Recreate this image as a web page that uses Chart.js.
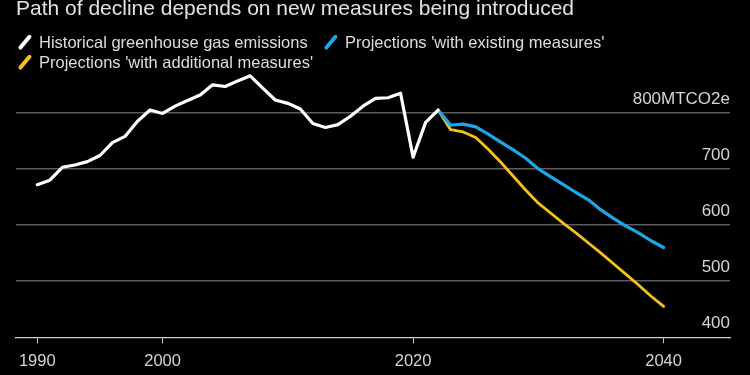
<!DOCTYPE html>
<html>
<head>
<meta charset="utf-8">
<script src="https://cdn.jsdelivr.net/npm/chart.js@4"></script>
<style>
  html, body { margin: 0; padding: 0; background: #000; }
  #wrap { position: relative; width: 750px; height: 375px; background: #000; overflow: hidden; }
  #wrap canvas { position: absolute; left: 0; top: 0; }
  .txt { position: absolute; font-family: 'Liberation Sans', Arial, sans-serif; color: #e2e2e2; white-space: nowrap; }
  #title { left: 16px; top: -3px; font-size: 21px; line-height: 21px; }
  .leg { font-size: 16.5px; line-height: 16.5px; color: #dedede; }
  .slash { position: absolute; width: 3.5px; height: 18px; border-radius: 2px; transform: rotate(40deg); }
</style>
</head>
<body>
<div id="wrap">
  <canvas id="chart" width="750" height="375"></canvas>
  <div id="title" class="txt">Path of decline depends on new measures being introduced</div>
  <div id="legend"></div>
</div>
<script>
const histYears = [1990, 1991, 1992, 1993, 1994, 1995, 1996, 1997, 1998, 1999, 2000, 2001, 2002, 2003, 2004, 2005, 2006, 2007, 2008, 2009, 2010, 2011, 2012, 2013, 2014, 2015, 2016, 2017, 2018, 2019, 2020, 2021, 2022];
const histValues = [672, 680, 703, 707, 713, 724, 747, 758, 785, 805, 799, 812, 822, 832, 850, 847, 857, 866, 844, 823, 817, 807, 781, 774, 779, 794, 812, 826, 827, 835, 721, 783, 805];

const projYears = [2022, 2023, 2024, 2025, 2026, 2027, 2028, 2029, 2030, 2031, 2032, 2033, 2034, 2035, 2036, 2037, 2038, 2039, 2040];
const existingValues = [805, 778, 780, 775, 762, 748, 734, 719, 700, 686, 672, 658, 645, 627, 612, 598, 586, 572, 560];
const additionalValues = [805, 770, 766, 756, 735, 712, 687, 662, 639, 621, 603, 586, 568, 550, 531, 512, 493, 473, 455];

const xTicks = [1990, 2000, 2020, 2040];
const yTicks = [400, 500, 600, 700, 800];
const yUnit = 'MTCO2e';

const seriesNames = ['Historical greenhouse gas emissions', "Projections 'with existing measures'", "Projections 'with additional measures'"];
const seriesColors = ['#ffffff', '#1ea5e6', '#f5c020'];

// legend rows, done in html (two lines like the original)
const legendPos = [[17, 34], [323, 34], [17, 54]];
const legendEl = document.getElementById('legend');
seriesNames.forEach((name, i) => {
  const [lx, ly] = legendPos[i];
  const s = document.createElement('span');
  s.className = 'slash';
  s.style.left = (lx + 6) + 'px';
  s.style.top = (ly - 1) + 'px';
  s.style.background = seriesColors[i];
  legendEl.appendChild(s);
  const t = document.createElement('div');
  t.className = 'txt leg';
  t.style.left = (lx + 22) + 'px';
  t.style.top = ly + 'px';
  t.textContent = name;
  legendEl.appendChild(t);
});

const toPoints = (xs, ys) => xs.map((x, i) => ({ x: x, y: ys[i] }));

const ctx = document.getElementById('chart').getContext('2d');
new Chart(ctx, {
  type: 'line',
  data: {
    datasets: [
      {
        label: seriesNames[0],
        data: toPoints(histYears, histValues),
        borderColor: seriesColors[0],
        borderWidth: 3.2,
        order: 0,
      },
      {
        label: seriesNames[1],
        data: toPoints(projYears, existingValues),
        borderColor: seriesColors[1],
        borderWidth: 3.2,
        order: 1,
      },
      {
        label: seriesNames[2],
        data: toPoints(projYears, additionalValues),
        borderColor: seriesColors[2],
        borderWidth: 2.8,
        order: 2,
      },
    ],
  },
  options: {
    responsive: false,
    animation: false,
    devicePixelRatio: 1,
    layout: {
      padding: { left: 16, right: 20, top: 68, bottom: -4 },
    },
    elements: {
      point: { radius: 0 },
      line: { tension: 0, borderCapStyle: 'round', borderJoinStyle: 'round' },
    },
    scales: {
      x: {
        type: 'linear',
        min: 1988.3,
        max: 2045.3,
        afterBuildTicks: (axis) => {
          axis.ticks = xTicks.map(v => ({ value: v }));
        },
        grid: {
          drawOnChartArea: false,
          drawTicks: true,
          tickLength: 6,
          tickColor: '#cfcfcf',
        },
        border: { display: true, color: '#cfcfcf', width: 1.2 },
        ticks: {
          color: '#d4d4d4',
          padding: 8,
          maxRotation: 0,
          font: { family: 'Liberation Sans', size: 16.5 },
          callback: (v) => String(v),
        },
      },
      y: {
        position: 'right',
        min: 400,
        max: 880,
        afterBuildTicks: (axis) => {
          axis.ticks = yTicks.map(v => ({ value: v }));
        },
        grid: {
          drawTicks: false,
          color: (c) => (c.tick && c.tick.value === 400 ? 'rgba(0,0,0,0)' : '#5c5c5c'),
          lineWidth: 1.5,
        },
        border: { display: false },
        ticks: {
          mirror: true,
          padding: 0,
          labelOffset: -14,
          color: '#d4d4d4',
          font: { family: 'Liberation Sans', size: 17 },
          callback: (v) => (v === 800 ? v + yUnit : String(v)),
        },
      },
    },
    plugins: {
      legend: { display: false },
      tooltip: { enabled: false },
      title: { display: false },
    },
  },
});
</script>
</body>
</html>
